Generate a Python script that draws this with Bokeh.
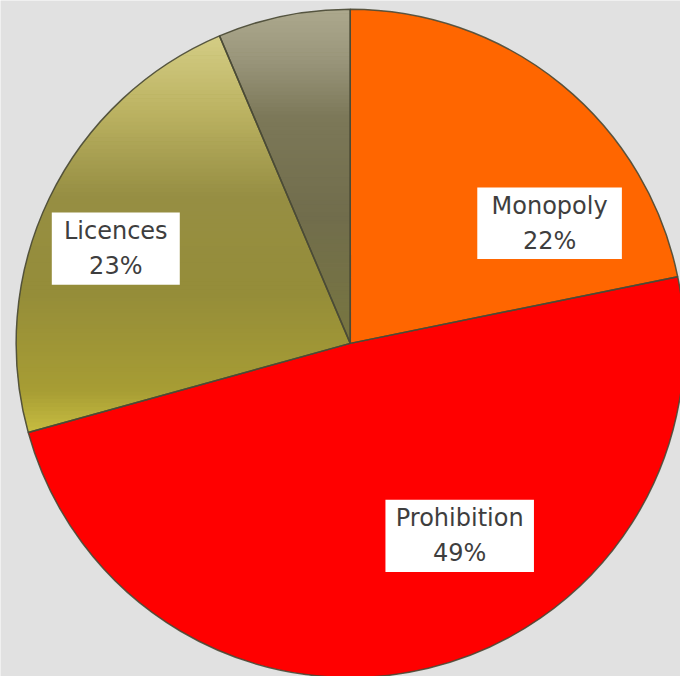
import numpy as np
from bokeh.plotting import figure
from bokeh.models import Range1d
from bokeh.core.properties import value
from bokeh.embed import file_html
from bokeh.resources import INLINE

# ---- data ----
categories = ["Monopoly", "Prohibition", "Licences", "Other"]
shares = [21.8, 48.9, 22.9, 6.4]
label_texts = ["Monopoly\n22%", "Prohibition\n49%", "Licences\n23%", ""]
base_colors = ["#FF6600", "#FF0000", "#9E963C", "#86825F"]

# ---- layout (reference pixel space, y measured from top) ----
W_REF, H_REF = 696, 692
CX, CY, R = 358, 351, 342
label_pos = {"Monopoly": (562, 228), "Prohibition": (470, 548), "Licences": (118, 254)}
label_box = {"Monopoly": (148, 73), "Prohibition": (152, 74), "Licences": (131, 74)}

# gradient stops (ref y from top, colour) for the shaded slices
grad_stops = {
    "Licences": [(30, "#D6CF88"), (110, "#BDB463"), (200, "#968E43"),
                 (300, "#958D39"), (400, "#A79D34"), (450, "#CDC343")],
    "Other": [(5, "#AEAA8F"), (60, "#9A967B"), (120, "#7C7858"),
              (220, "#716D4C"), (355, "#78763F")],
}

def fy(y):
    return H_REF - y

def hex2rgb(h):
    h = h.lstrip("#")
    return np.array([int(h[i:i + 2], 16) for i in (0, 2, 4)], dtype=float)

def rgb2hex(c):
    c = np.clip(np.round(c), 0, 255).astype(int)
    return "#%02X%02X%02X" % tuple(c)

def interp_color(stops, y):
    ys = [s[0] for s in stops]
    cols = [hex2rgb(s[1]) for s in stops]
    out = np.zeros(3)
    for k in range(3):
        out[k] = np.interp(y, ys, [c[k] for c in cols])
    return rgb2hex(out)

def clip_half(poly, yv, keep_below):
    res = []
    n = len(poly)
    for i in range(n):
        a = poly[i]
        b = poly[(i + 1) % n]
        ina = a[1] <= yv if keep_below else a[1] >= yv
        inb = b[1] <= yv if keep_below else b[1] >= yv
        if ina:
            res.append(a)
        if ina != inb:
            t = (yv - a[1]) / (b[1] - a[1])
            res.append((a[0] + t * (b[0] - a[0]), yv))
    return res

total = float(sum(shares))
cum = np.concatenate([[0.0], np.cumsum(shares)]) / total
start_angles = np.pi / 2 - cum[:-1] * 2 * np.pi
end_angles = np.pi / 2 - cum[1:] * 2 * np.pi

p = figure(width=680, height=676, x_range=Range1d(0, W_REF), y_range=Range1d(0, H_REF),
           output_backend="svg", toolbar_location=None, min_border=0)
p.axis.visible = False
p.grid.visible = False
p.outline_line_color = None
p.background_fill_color = "#E1E1E1"
p.border_fill_color = "#E1E1E1"

# base slices
p.wedge(x=[CX] * 4, y=[fy(CY)] * 4, radius=R, start_angle=list(start_angles),
        end_angle=list(end_angles), direction="clock", fill_color=base_colors,
        line_color=None)

# gradient bands for shaded slices
band_xs, band_ys, band_cols = [], [], []
for i, cat in enumerate(categories):
    if cat not in grad_stops:
        continue
    a0, a1 = start_angles[i], end_angles[i]
    angs = np.linspace(a0, a1, 200)
    poly = [(CX, CY)] + [(CX + R * np.cos(a), CY - R * np.sin(a)) for a in angs]
    ymin = min(pt[1] for pt in poly)
    ymax = max(pt[1] for pt in poly)
    edges = np.arange(np.floor(ymin), ymax + 4, 4)
    for ya, yb in zip(edges[:-1], edges[1:]):
        q = clip_half(poly, ya, keep_below=False)
        if len(q) < 3:
            continue
        q = clip_half(q, yb + 0.6, keep_below=True)
        if len(q) < 3:
            continue
        band_xs.append([pt[0] for pt in q])
        band_ys.append([fy(pt[1]) for pt in q])
        band_cols.append(interp_color(grad_stops[cat], (ya + yb) / 2))
p.patches(xs=band_xs, ys=band_ys, fill_color=band_cols, line_color=None)

# outlines
p.wedge(x=[CX] * 4, y=[fy(CY)] * 4, radius=R, start_angle=list(start_angles),
        end_angle=list(end_angles), direction="clock", fill_alpha=0,
        line_color="#4A4A36", line_width=1.5, line_alpha=0.9)

# label boxes and texts
lx, ly, lw, lh, lt = [], [], [], [], []
for cat, txt in zip(categories, label_texts):
    if not txt:
        continue
    x, y = label_pos[cat]
    w, h = label_box[cat]
    lx.append(x); ly.append(fy(y)); lw.append(w); lh.append(h); lt.append(txt)
p.rect(x=lx, y=ly, width=lw, height=lh, fill_color="white", line_color=None)
p.text(x=lx, y=ly, text=lt, text_align="center", text_baseline="middle",
       text_font=value("DejaVu Sans"), text_font_size="24px", text_color="#3E3E3E",
       text_line_height=1.25)

open("out.html", "w").write(file_html(p, INLINE))
